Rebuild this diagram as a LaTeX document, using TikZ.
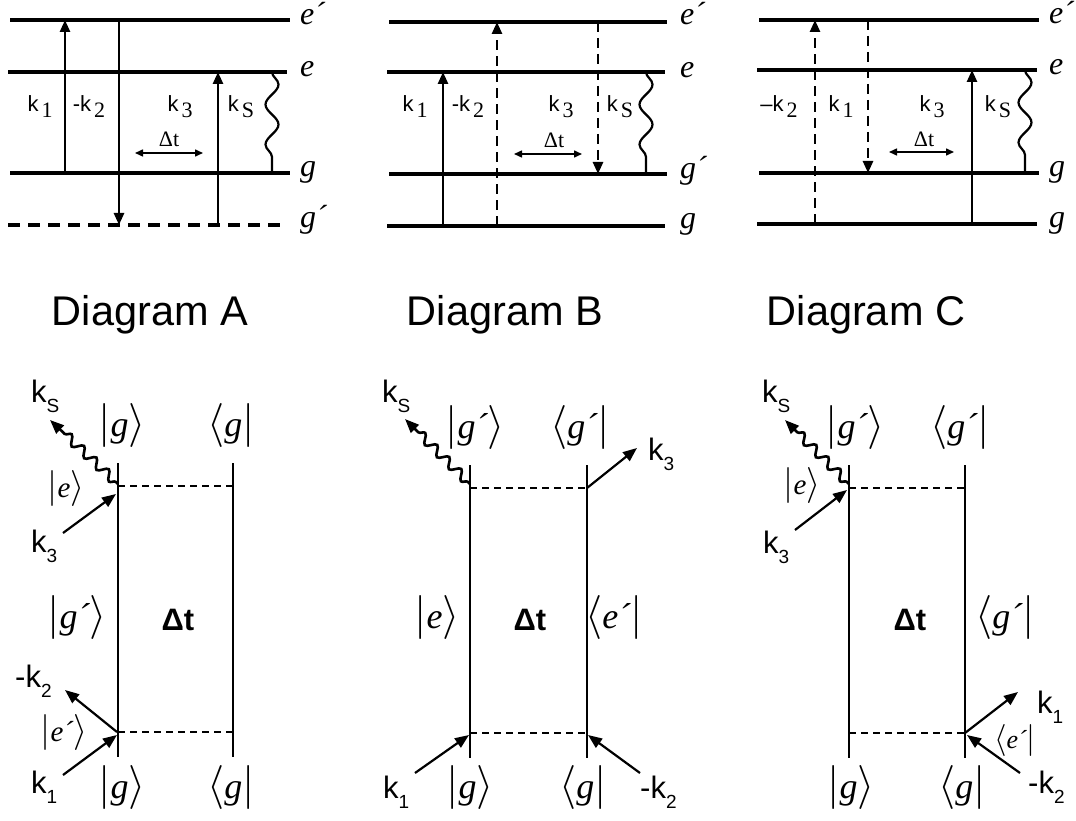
\RequirePackage{fix-cm}
\documentclass[tikz,border=0pt]{standalone}
\usepackage{amsmath}
\usepackage{fontspec}
\setmainfont{Liberation Serif}
\setsansfont{Liberation Sans}
\usetikzlibrary{arrows.meta,decorations.pathmorphing}

\newcommand\fs[1]{\fontsize{#1}{#1}\selectfont}
% wave-vector labels of the level schemes: sans k, roman subscript
\newcommand\tk[2][]{{\sffamily\fs{22}#1k}\hspace{3pt}\raisebox{-6pt}{\rmfamily\fs{22}#2}}
% wave-vector labels of the Feynman diagrams
\newcommand\bsub[1]{\raisebox{-10pt}{\fs{19}#1}}
% kets and bras
\newcommand\ketb[1]{{\fs{44}$\lvert$}{\rmfamily\itshape\fs{36}#1}{\fs{44}$\rangle$}}
\newcommand\brab[1]{{\fs{44}$\langle$}{\rmfamily\itshape\fs{36}#1}{\fs{44}$\rvert$}}
\newcommand\kets[1]{{\fs{36}$\lvert$}{\rmfamily\itshape\fs{29}#1}{\fs{36}$\rangle$}}
\newcommand\bras[1]{{\fs{32}$\langle$}{\rmfamily\itshape\fs{26}#1}{\fs{32}$\rvert$}}

\begin{document}
\begin{tikzpicture}[x=1pt,y=-1pt,
  lvl/.style={line width=3.2pt},
  lvldash/.style={line width=3.2pt,dash pattern=on 12pt off 8pt},
  tarr/.style={line width=2.6pt,-{Triangle[length=12pt,width=10pt]}},
  tdarr/.style={tarr,dash pattern=on 10pt off 6pt},
  twave/.style={line width=2.2pt,decorate,decoration={snake,amplitude=6.5pt,segment length=40pt}},
  dtarr/.style={line width=1.5pt,{Triangle[length=8pt,width=7pt]}-{Triangle[length=8pt,width=7pt]}},
  tlvl/.style={font=\rmfamily\itshape\fs{32},anchor=base west,inner sep=0pt},
  tk/.style={anchor=base,inner sep=0pt},
  tdt/.style={font=\rmfamily\fs{22},anchor=base,inner sep=0pt},
  title/.style={font=\sffamily\fs{41.5},anchor=base,inner sep=0pt},
  rail/.style={line width=2.2pt},
  rung/.style={line width=1.6pt,dash pattern=on 7pt off 5pt},
  barr/.style={line width=2.2pt,-{Triangle[length=14pt,width=11pt]}},
  bwave/.style={line width=2.6pt,decorate,decoration={snake,amplitude=4.5pt,segment length=17pt,pre length=3pt,post length=13pt},-{Triangle[length=14pt,width=11pt]}},
  bk/.style={anchor=base west,inner sep=0pt,font=\sffamily\fs{31}},
  ket/.style={anchor=base,inner sep=0pt},
  bdt/.style={font=\sffamily\bfseries\fs{31},anchor=base,inner sep=0pt}
]
\useasboundingbox (0,0) rectangle (1076,821);

%% ---------------- level scheme A ----------------
\draw[lvl] (10,20) -- (290,20);
\draw[lvl] (8,72) -- (287,72);
\draw[lvl] (10,173) -- (290,173);
\draw[lvldash] (8,225) -- (287,225);
\node[tlvl] (Aep) at (300,25) {e´};
\node[tlvl] (Ae) at (300,77) {e};
\node[tlvl] (Ag) at (300,177) {g};
\node[tlvl] (Agp) at (300,228) {g´};
\coordinate (Ak1a) at (65,173);  \coordinate (Ak1b) at (65,20);
\coordinate (Ak2a) at (119,20);  \coordinate (Ak2b) at (119,225);
\coordinate (Ak3a) at (218,225); \coordinate (Ak3b) at (218,72);
\coordinate (Aksa) at (272,72);  \coordinate (Aksb) at (272,173);
\draw[tarr] (Ak1a) -- (Ak1b);
\draw[tarr] (Ak2a) -- (Ak2b);
\draw[tarr] (Ak3a) -- (Ak3b);
\draw[twave] (Aksa) -- (Aksb);
\node[tk] (Alk1) at (40,112) {\tk{1}};
\node[tk] (Alk2) at (89,112) {\tk[-]{2}};
\node[tk] (Alk3) at (180,112) {\tk{3}};
\node[tk] (Alks) at (241,112) {\tk{S}};
\node[tdt] (Adt) at (169,147) {Δt};
\coordinate (Adta) at (135,153); \coordinate (Adtb) at (203,153);
\draw[dtarr] (Adta) -- (Adtb);

%% ---------------- level scheme B ----------------
\draw[lvl] (389,22) -- (667,22);
\draw[lvl] (387,72) -- (665,72);
\draw[lvl] (389,174) -- (667,174);
\draw[lvl] (387,226) -- (665,226);
\node[tlvl] (Bep) at (680,25) {e´};
\node[tlvl] (Be) at (680,78) {e};
\node[tlvl] (Bgp) at (680,179) {g´};
\node[tlvl] (Bg) at (680,229) {g};
\coordinate (Bk1a) at (443,226); \coordinate (Bk1b) at (443,72);
\coordinate (Bk2a) at (497,226); \coordinate (Bk2b) at (497,22);
\coordinate (Bk3a) at (598,22);  \coordinate (Bk3b) at (598,174);
\coordinate (Bksa) at (646,72);  \coordinate (Bksb) at (646,174);
\draw[tarr] (Bk1a) -- (Bk1b);
\draw[tdarr] (Bk2a) -- (Bk2b);
\draw[tdarr] (Bk3a) -- (Bk3b);
\draw[twave] (Bksa) -- (Bksb);
\node[tk] (Blk1) at (415,112) {\tk{1}};
\node[tk] (Blk2) at (468,112) {\tk[-]{2}};
\node[tk] (Blk3) at (561,112) {\tk{3}};
\node[tk] (Blks) at (620,112) {\tk{S}};
\node[tdt] (Bdt) at (554,148) {Δt};
\coordinate (Bdta) at (514,154); \coordinate (Bdtb) at (582,154);
\draw[dtarr] (Bdta) -- (Bdtb);

%% ---------------- level scheme C ----------------
\draw[lvl] (759,20) -- (1039,20);
\draw[lvl] (757,70) -- (1037,70);
\draw[lvl] (759,173) -- (1039,173);
\draw[lvl] (757,224) -- (1037,224);
\node[tlvl] (Cep) at (1049,24) {e´};
\node[tlvl] (Ce) at (1049,75) {e};
\node[tlvl] (Cg) at (1049,177) {g};
\node[tlvl] (Cgg) at (1049,227) {g};
\coordinate (Ck2a) at (815,224); \coordinate (Ck2b) at (815,20);
\coordinate (Ck1a) at (868,20);  \coordinate (Ck1b) at (868,173);
\coordinate (Ck3a) at (972,224); \coordinate (Ck3b) at (972,70);
\coordinate (Cksa) at (1025,70); \coordinate (Cksb) at (1025,173);
\draw[tdarr] (Ck2a) -- (Ck2b);
\draw[tdarr] (Ck1a) -- (Ck1b);
\draw[tarr] (Ck3a) -- (Ck3b);
\draw[twave] (Cksa) -- (Cksb);
\node[tk] (Clk2) at (779,112) {\tk[\textendash]{2}};
\node[tk] (Clk1) at (841,112) {\tk{1}};
\node[tk] (Clk3) at (932,112) {\tk{3}};
\node[tk] (Clks) at (998,112) {\tk{S}};
\node[tdt] (Cdt) at (924,147) {Δt};
\coordinate (Cdta) at (889,152); \coordinate (Cdtb) at (954,152);
\draw[dtarr] (Cdta) -- (Cdtb);

%% ---------------- titles ----------------
\node[title] (TA) at (150,325) {Diagram A};
\node[title] (TB) at (505,325) {Diagram B};
\node[title] (TC) at (866,325) {Diagram C};

%% ---------------- Feynman diagram A ----------------
\draw[rail] (118,463) -- (118,757);
\draw[rail] (233,463) -- (233,757);
\coordinate (Ja) at (118,486); \coordinate (Jb) at (233,486);
\coordinate (Jc) at (118,732); \coordinate (Jd) at (233,732);
\draw[rung] (Ja) -- (Jb);
\draw[rung] (Jc) -- (Jd);
\node[ket] (JkT) at (122,436) {\ketb{g}};
\node[ket] (JbT) at (231,436) {\brab{g}};
\node[ket] (Jke) at (66,497) {\kets{e}};
\node[ket] (Jkm) at (77,628) {\ketb{g´}};
\node[ket] (Jkep) at (64,741) {\kets{e´}};
\node[ket] (JkB) at (122,798) {\ketb{g}};
\node[ket] (JbB) at (231,798) {\brab{g}};
\node[bdt] (Jdt) at (178,630) {Δt};
\coordinate (Jws) at (118,484); \coordinate (Jwe) at (50,420);
\draw[bwave] (Jws) -- (Jwe);
\coordinate (J3s) at (63,533);  \coordinate (J3e) at (116,494);
\coordinate (J2s) at (117,732); \coordinate (J2e) at (65,690);
\coordinate (J1s) at (63,775);  \coordinate (J1e) at (117,735);
\draw[barr] (J3s) -- (J3e);
\draw[barr] (J2s) -- (J2e);
\draw[barr] (J1s) -- (J1e);
\node[bk] (Jlks) at (31,402) {k\bsub{S}};
\node[bk] (Jlk3) at (31,552) {k\bsub{3}};
\node[bk] (Jlk2) at (15,687) {-k\bsub{2}};
\node[bk] (Jlk1) at (31,793) {k\bsub{1}};

%% ---------------- Feynman diagram B ----------------
\draw[rail] (470,465) -- (470,758);
\draw[rail] (587,465) -- (587,758);
\coordinate (Ka) at (470,488); \coordinate (Kb) at (587,488);
\coordinate (Kc) at (470,733); \coordinate (Kd) at (587,733);
\draw[rung] (Ka) -- (Kb);
\draw[rung] (Kc) -- (Kd);
\node[ket] (KkT) at (475,438) {\ketb{g´}};
\node[ket] (KbT) at (580,438) {\brab{g´}};
\node[ket] (Kke) at (437,628) {\ketb{e}};
\node[ket] (Kbe) at (614,628) {\brab{e´}};
\node[ket] (KkB) at (470,798) {\ketb{g}};
\node[ket] (KbB) at (583,798) {\brab{g}};
\node[bdt] (Kdt) at (530,630) {Δt};
\coordinate (Kws) at (470,484); \coordinate (Kwe) at (405,419);
\draw[bwave] (Kws) -- (Kwe);
\coordinate (K3s) at (587,488); \coordinate (K3e) at (637,448);
\coordinate (K1s) at (415,773); \coordinate (K1e) at (469,735);
\coordinate (K2s) at (640,773); \coordinate (K2e) at (588,735);
\draw[barr] (K3s) -- (K3e);
\draw[barr] (K1s) -- (K1e);
\draw[barr] (K2s) -- (K2e);
\node[bk] (Klks) at (382,402) {k\bsub{S}};
\node[bk] (Klk3) at (648,460) {k\bsub{3}};
\node[bk] (Klk1) at (383,798) {k\bsub{1}};
\node[bk] (Klk2) at (640,798) {-k\bsub{2}};

%% ---------------- Feynman diagram C ----------------
\draw[rail] (849,465) -- (849,758);
\draw[rail] (965,465) -- (965,758);
\coordinate (La) at (849,488); \coordinate (Lb) at (965,488);
\coordinate (Lc) at (849,733); \coordinate (Ld) at (965,733);
\draw[rung] (La) -- (Lb);
\draw[rung] (Lc) -- (Ld);
\node[ket] (LkT) at (855,438) {\ketb{g´}};
\node[ket] (LbT) at (960,438) {\brab{g´}};
\node[ket] (Lke) at (802,494) {\kets{e}};
\node[ket] (Lbm) at (1005,628) {\brab{g´}};
\node[ket] (Lbe) at (1015,748) {\bras{e´}};
\node[ket] (LkB) at (851,798) {\ketb{g}};
\node[ket] (LbB) at (962,798) {\brab{g}};
\node[bdt] (Ldt) at (910,630) {Δt};
\coordinate (Lws) at (849,484); \coordinate (Lwe) at (785,420);
\draw[bwave] (Lws) -- (Lwe);
\coordinate (L3s) at (795,530);  \coordinate (L3e) at (847,490);
\coordinate (L1s) at (965,733);  \coordinate (L1e) at (1018,692);
\coordinate (L2s) at (1020,773); \coordinate (L2e) at (967,735);
\draw[barr] (L3s) -- (L3e);
\draw[barr] (L1s) -- (L1e);
\draw[barr] (L2s) -- (L2e);
\node[bk] (Llks) at (762,402) {k\bsub{S}};
\node[bk] (Llk3) at (763,553) {k\bsub{3}};
\node[bk] (Llk1) at (1037,713) {k\bsub{1}};
\node[bk] (Llk2) at (1028,793) {-k\bsub{2}};
\end{tikzpicture}
\end{document}
